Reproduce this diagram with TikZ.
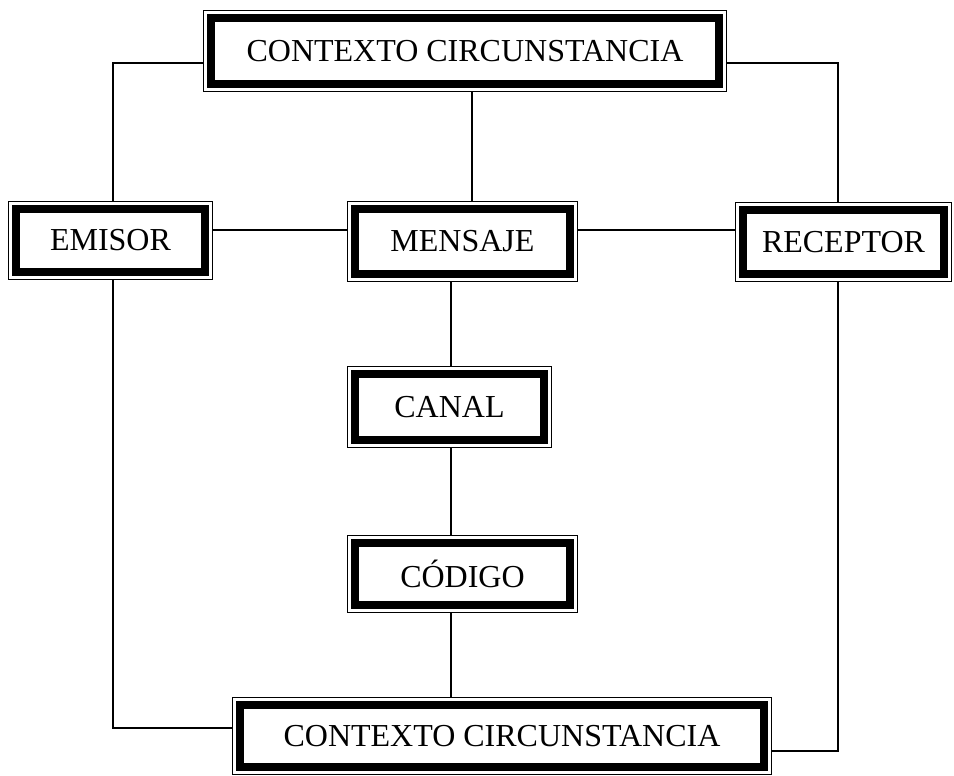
\documentclass[tikz,border=0pt]{standalone}
\usepackage{fontspec}
\setmainfont{Liberation Serif}
\begin{document}
\begin{tikzpicture}[x=1pt,y=-1pt,
  bx/.style={inner sep=0pt, font=\fontsize{32}{38}\selectfont},
  conn/.style={line width=1.3pt}]
\useasboundingbox (0,0) rectangle (954,776);
% boxes
\node[bx, minimum width=524pt, minimum height=82pt] (top) at (465,51) {CONTEXTO CIRCUNSTANCIA};
\node[bx, minimum width=205pt, minimum height=79pt] (emisor) at (110.5,240.5) {EMISOR};
\node[bx, minimum width=231pt, minimum height=81pt] (mensaje) at (462.5,241.5) {MENSAJE};
\node[bx, minimum width=217pt, minimum height=80pt] (receptor) at (843.5,242) {RECEPTOR};
\node[bx, minimum width=205pt, minimum height=82pt] (canal) at (449.5,407) {CANAL};
\node[bx, minimum width=231pt, minimum height=78pt] (codigo) at (462.5,574) {CÓDIGO};
\node[bx, minimum width=540pt, minimum height=78pt] (bottom) at (502,736) {CONTEXTO CIRCUNSTANCIA};
\foreach \n in {top,emisor,mensaje,receptor,canal,codigo,bottom}{
  \draw[line width=1.5pt] ([shift={(0.75pt,-0.75pt)}]\n.north west) rectangle ([shift={(-0.75pt,0.75pt)}]\n.south east);
  \draw[line width=8pt] ([shift={(8pt,-8pt)}]\n.north west) rectangle ([shift={(-8pt,8pt)}]\n.south east);
}
% helper coordinates
\coordinate (yA) at (0,63);
\coordinate (yB) at (0,230);
\coordinate (yC) at (0,728);
\coordinate (yD) at (0,751);
\coordinate (xL) at (113,0);
\coordinate (xR) at (838,0);
\coordinate (xM) at (472,0);
\coordinate (xC) at (451,0);
% connectors
\draw[conn] (top.west |- yA) -| (emisor.north -| xL);
\draw[conn] (top.east |- yA) -| (receptor.north -| xR);
\draw[conn] (top.south -| xM) -- (mensaje.north -| xM);
\draw[conn] (emisor.east |- yB) -- (mensaje.west |- yB);
\draw[conn] (mensaje.east |- yB) -- (receptor.west |- yB);
\draw[conn] (mensaje.south -| xC) -- (canal.north -| xC);
\draw[conn] (canal.south -| xC) -- (codigo.north -| xC);
\draw[conn] (codigo.south -| xC) -- (bottom.north -| xC);
\draw[conn] (emisor.south -| xL) |- (bottom.west |- yC);
\draw[conn] (receptor.south -| xR) |- (bottom.east |- yD);
\end{tikzpicture}
\end{document}
